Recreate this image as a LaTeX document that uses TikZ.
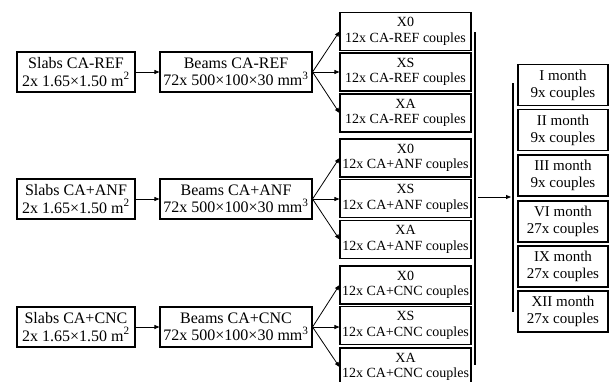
\documentclass[tikz,border=0pt]{standalone}
\usepackage{fontspec}
\setmainfont{Liberation Serif}
\usetikzlibrary{arrows.meta}
\tikzset{
 box/.style={draw, line width=1.1pt, inner sep=0pt, align=center},
 slab/.style={box, minimum width=118pt, minimum height=40pt, font=\fontsize{16}{17.5}\selectfont},
 beam/.style={box, minimum width=152pt, minimum height=40pt, font=\fontsize{16}{17.5}\selectfont},
 xbox/.style={box, minimum width=131pt, minimum height=38pt, font=\fontsize{14}{15.5}\selectfont},
 mbox/.style={box, minimum width=90pt, minimum height=41pt, font=\fontsize{15}{17}\selectfont},
 conn/.style={line width=0.8pt, -{Triangle[length=5pt,width=4pt]}},
 bar/.style={line width=1.2pt}
}
\begin{document}
\begin{tikzpicture}[x=1pt,y=-1pt]
\useasboundingbox (0,0) rectangle (609,381);
\clip (0,0) rectangle (609,381);
% slabs
\node[slab] (s1) at (76,72) {Slabs CA-REF\\2x 1.65×1.50 m\textsuperscript{2}};
\node[slab] (s2) at (76,199) {Slabs CA+ANF\\2x 1.65×1.50 m\textsuperscript{2}};
\node[slab] (s3) at (76,327) {Slabs CA+CNC\\2x 1.65×1.50 m\textsuperscript{2}};
% beams
\node[beam] (b1) at (236,72) {Beams CA-REF\\72x 500×100×30 mm\textsuperscript{3}};
\node[beam] (b2) at (236,199) {Beams CA+ANF\\72x 500×100×30 mm\textsuperscript{3}};
\node[beam] (b3) at (236,327) {Beams CA+CNC\\72x 500×100×30 mm\textsuperscript{3}};
% x boxes
\node[xbox] (r0) at (405.5,31.5) {X0\\12x CA-REF couples};
\node[xbox] (rs) at (405.5,72) {XS\\12x CA-REF couples};
\node[xbox] (ra) at (405.5,113) {XA\\12x CA-REF couples};
\node[xbox] (a0) at (405.5,158) {X0\\12x CA+ANF couples};
\node[xbox] (as) at (405.5,198.5) {XS\\12x CA+ANF couples};
\node[xbox] (aa) at (405.5,239.5) {XA\\12x CA+ANF couples};
\node[xbox] (c0) at (405.5,285) {X0\\12x CA+CNC couples};
\node[xbox] (cs) at (405.5,325.5) {XS\\12x CA+CNC couples};
\node[xbox] (ca) at (405.5,367) {XA\\12x CA+CNC couples};
% months
\node[mbox] (m1) at (563,85) {I month\\9x couples};
\node[mbox] (m2) at (563,130) {II month\\9x couples};
\node[mbox] (m3) at (563,175.5) {III month\\9x couples};
\node[mbox] (m4) at (563,221.5) {VI month\\27x couples};
\node[mbox] (m5) at (563,266.5) {IX month\\27x couples};
\node[mbox] (m6) at (563,311.5) {XII month\\27x couples};
% connectors
\draw[conn] (s1) -- (b1);
\draw[conn] (s2) -- (b2);
\draw[conn] (s3) -- (b3);
\foreach \b/\p/\q/\r in {b1/r0/rs/ra, b2/a0/as/aa, b3/c0/cs/ca}{
  \draw[conn] (\b.east) -- (\p.west);
  \draw[conn] (\b.east) -- (\b.east -| \q.west);
  \draw[conn] (\b.east) -- (\r.west);
}
% bars
\coordinate (l1t) at (475,32);
\coordinate (l1b) at (475,365);
\coordinate (l2t) at (513,83);
\coordinate (l2b) at (513,312);
\draw[bar] (l1t) -- (l1b);
\draw[bar] (l2t) -- (l2b);
\coordinate (p1) at (478,197);
\coordinate (p2) at (511,197);
\draw[conn] (p1) -- (p2);
\end{tikzpicture}
\end{document}
